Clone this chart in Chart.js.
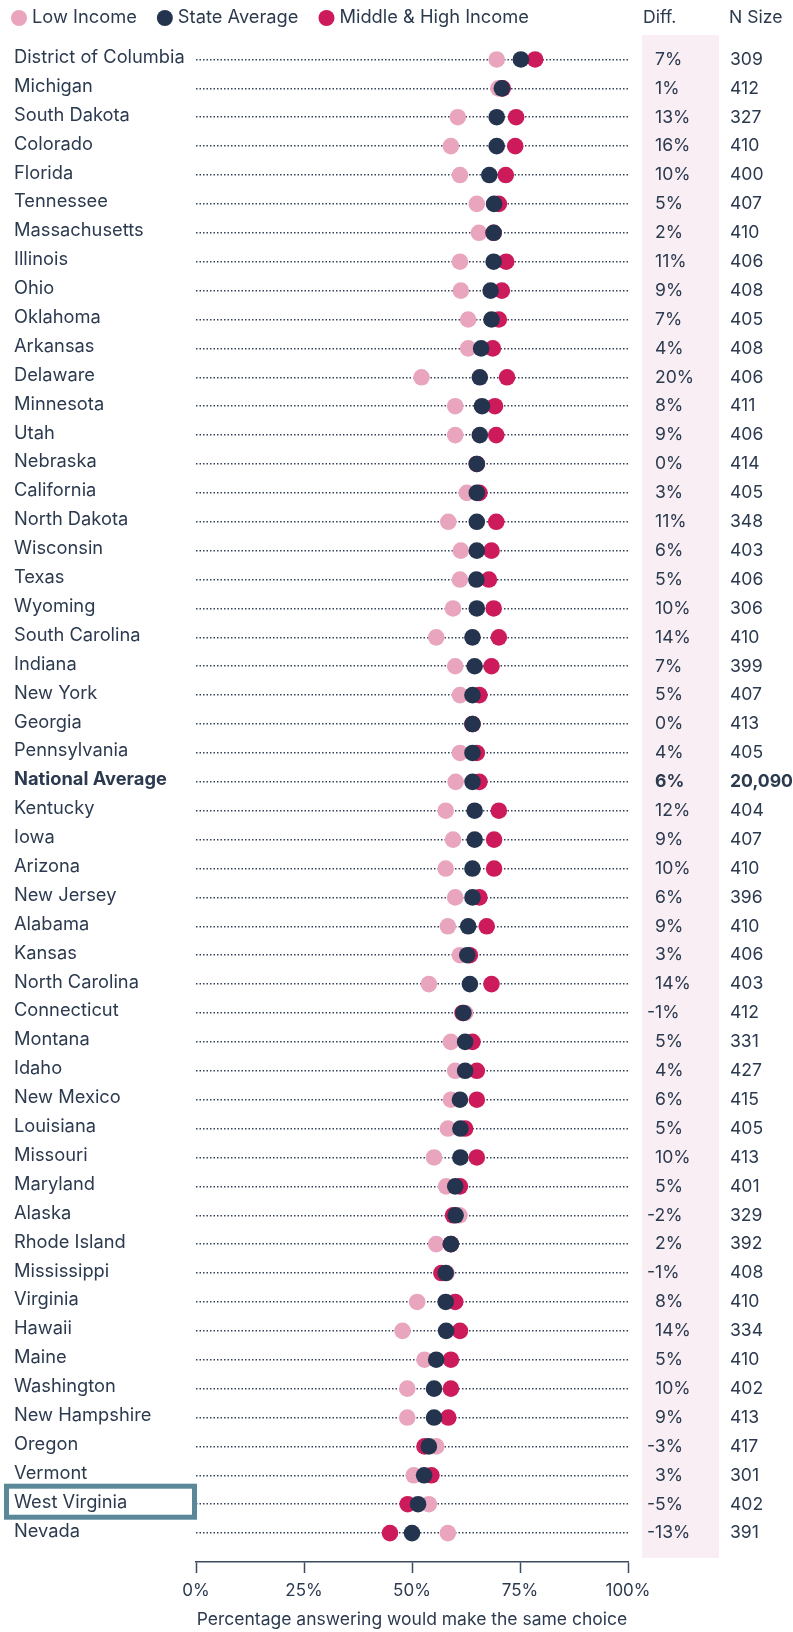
<!DOCTYPE html>
<html>
<head>
<meta charset="utf-8">
<script src="https://cdn.jsdelivr.net/npm/chart.js@4.4.1/dist/chart.umd.min.js"></script>
<style>
  html, body { margin: 0; padding: 0; background: #fff; }
  canvas { display: block; }
</style>
</head>
<body>
<canvas id="dumbbellChart" width="793" height="1632"></canvas>
<script>
// --- data ---
const states = ['District of Columbia', 'Michigan', 'South Dakota', 'Colorado', 'Florida', 'Tennessee',
  'Massachusetts', 'Illinois', 'Ohio', 'Oklahoma', 'Arkansas', 'Delaware', 'Minnesota', 'Utah', 'Nebraska',
  'California', 'North Dakota', 'Wisconsin', 'Texas', 'Wyoming', 'South Carolina', 'Indiana', 'New York',
  'Georgia', 'Pennsylvania', 'National Average', 'Kentucky', 'Iowa', 'Arizona', 'New Jersey', 'Alabama',
  'Kansas', 'North Carolina', 'Connecticut', 'Montana', 'Idaho', 'New Mexico', 'Louisiana', 'Missouri',
  'Maryland', 'Alaska', 'Rhode Island', 'Mississippi', 'Virginia', 'Hawaii', 'Maine', 'Washington',
  'New Hampshire', 'Oregon', 'Vermont', 'West Virginia', 'Nevada'];

const lowIncome = [69.6, 70.0, 60.6, 59.0, 61.1, 65.0, 65.5, 61.1, 61.3, 63.0, 63.0, 52.2, 60.0, 60.0, 65.0,
  62.7, 58.4, 61.3, 61.1, 59.5, 55.6, 60.0, 61.1, 64.0, 61.1, 60.1, 57.8, 59.5, 57.8, 60.0, 58.3,
  61.1, 53.9, 62.3, 59.0, 60.0, 59.0, 58.3, 55.1, 57.9, 61.0, 55.6, 58.0, 51.2, 47.8, 52.9, 48.9,
  48.9, 55.6, 50.4, 53.9, 58.3];

const stateAverage = [75.2, 70.8, 69.6, 69.6, 67.9, 69.0, 68.9, 68.9, 68.2, 68.4, 66.0, 65.7, 66.2, 65.7, 65.0,
  65.0, 65.0, 65.0, 64.9, 65.0, 64.0, 64.5, 64.0, 64.0, 64.0, 64.0, 64.5, 64.5, 64.0, 64.0, 63.0,
  62.8, 63.4, 61.9, 62.3, 62.3, 61.1, 61.2, 61.2, 60.0, 60.1, 59.0, 57.8, 57.8, 57.9, 55.6, 55.1,
  55.1, 53.9, 52.8, 51.4, 50.0];

const midHighIncome = [78.5, 71.0, 74.1, 73.9, 71.7, 70.1, 68.9, 71.8, 70.8, 70.1, 68.7, 72.0, 69.2, 69.5, 65.0,
  65.6, 69.5, 68.4, 67.8, 68.9, 70.1, 68.4, 65.6, 64.0, 65.0, 65.6, 70.1, 69.0, 69.0, 65.6, 67.3,
  63.4, 68.4, 61.7, 64.0, 65.0, 65.0, 62.3, 65.0, 61.1, 59.5, 59.0, 56.8, 60.0, 61.1, 59.0, 59.0,
  58.4, 52.9, 54.5, 49.0, 44.9];

const diffLabels = ['7%', '1%', '13%', '16%', '10%', '5%', '2%', '11%', '9%', '7%', '4%', '20%', '8%', '9%', '0%',
  '3%', '11%', '6%', '5%', '10%', '14%', '7%', '5%', '0%', '4%', '6%', '12%', '9%', '10%', '6%', '9%',
  '3%', '14%', '-1%', '5%', '4%', '6%', '5%', '10%', '5%', '-2%', '2%', '-1%', '8%', '14%', '5%', '10%',
  '9%', '-3%', '3%', '-5%', '-13%'];

const nSize = [309, 412, 327, 410, 400, 407, 410, 406, 408, 405, 408, 406, 411, 406, 414,
  405, 348, 403, 406, 306, 410, 399, 407, 413, 405, 20090, 404, 407, 410, 396, 410,
  406, 403, 412, 331, 427, 415, 405, 413, 401, 329, 392, 408, 410, 334, 410, 402,
  413, 417, 301, 402, 391];

const xTicks = [0, 25, 50, 75, 100];
const boldRow = 'National Average';
const highlightRow = 'West Virginia';

// --- styles ---
const FONT = 'Inter, Lato, sans-serif';
const LABEL_SIZE = 18.3;
const TABLE_SIZE = 17.6;
const TEXT = '#2c3a4f';
const PINK = '#e9a5be';
const NAVY = '#24344e';
const CRIMSON = '#cc1a5b';

const toPoints = arr => arr.map((v, i) => ({ x: v, y: i }));

// legend, right-hand table, highlight box
const sideTable = {
    id: 'sideTable',
    beforeDraw(chart) {
        const { ctx, chartArea } = chart;
        ctx.save();
        ctx.fillStyle = '#f8eef3';
        ctx.fillRect(642, chartArea.top - 10, 77, chartArea.bottom - chartArea.top + 6);
        ctx.restore();
    },
    afterDraw(chart) {
        const { ctx, scales: { y } } = chart;
        ctx.save();
        ctx.textBaseline = 'middle';
        ctx.textAlign = 'left';
        ctx.font = `${LABEL_SIZE}px ${FONT}`;

        // legend
        let lx = 11;
        chart.data.datasets.forEach(ds => {
            ctx.fillStyle = ds.backgroundColor;
            ctx.beginPath();
            ctx.arc(lx + 8, 18, 8, 0, Math.PI * 2);
            ctx.fill();
            ctx.fillStyle = TEXT;
            ctx.fillText(ds.label, lx + 21, 18);
            lx += 21 + ctx.measureText(ds.label).width + 20;
        });

        // column headers
        ctx.fillStyle = TEXT;
        ctx.font = `${TABLE_SIZE}px ${FONT}`;
        ctx.fillText('Diff.', 643, 18);
        ctx.fillText('N Size', 729, 18);

        // diff + n size
        states.forEach((s, i) => {
            const py = y.getPixelForValue(i);
            ctx.font = `${s === boldRow ? 'bold ' : ''}${TABLE_SIZE}px ${FONT}`;
            const d = diffLabels[i];
            const dx = d.startsWith('-') ? 655 - ctx.measureText('-').width : 655;
            ctx.fillText(d, dx, py);
            ctx.fillText(nSize[i].toLocaleString('en-US'), 730, py);
        });

        // highlight box
        const hy = y.getPixelForValue(states.indexOf(highlightRow)) - 2.5;
        ctx.strokeStyle = '#5a8898';
        ctx.lineWidth = 5;
        ctx.strokeRect(6.5, hy - 15.5, 188, 31);
        ctx.restore();
    }
};

const ctx = document.getElementById('dumbbellChart').getContext('2d');
new Chart(ctx, {
    type: 'scatter',
    data: {
        datasets: [
            { label: 'Low Income', data: toPoints(lowIncome), backgroundColor: PINK, order: 2 },
            { label: 'State Average', data: toPoints(stateAverage), backgroundColor: NAVY, order: 0 },
            { label: 'Middle & High Income', data: toPoints(midHighIncome), backgroundColor: CRIMSON, order: 1 }
        ]
    },
    options: {
        responsive: false,
        animation: false,
        events: [],
        layout: { padding: { top: 45, left: 14, right: 165, bottom: 0 } },
        elements: { point: { radius: 8.3, hoverRadius: 8.3, borderWidth: 0 } },
        plugins: { legend: { display: false }, tooltip: { enabled: false } },
        scales: {
            x: {
                type: 'linear', min: 0, max: 100,
                afterBuildTicks: s => { s.ticks = xTicks.map(v => ({ value: v })); },
                afterFit: s => { s.height = 70; },
                ticks: { color: TEXT, font: { family: FONT, size: 17 }, padding: 8, maxRotation: 0, callback: v => v + '%' },
                grid: { drawOnChartArea: false, drawTicks: true, tickLength: 11, tickColor: '#3b4a5f', tickWidth: 1.5 },
                border: { display: true, color: '#3b4a5f', width: 1.5 },
                title: {
                    display: true, text: 'Percentage answering would make the same choice',
                    color: TEXT, font: { family: FONT, size: 17.5 }, padding: { top: 8, bottom: 2 }
                }
            },
            y: {
                type: 'linear', reverse: true, min: -0.5, max: 52,
                afterBuildTicks: s => { s.ticks = states.map((_, i) => ({ value: i })); },
                afterFit: s => { s.width = 182; },
                ticks: {
                    autoSkip: false, crossAlign: 'far', labelOffset: -2, color: TEXT,
                    font: c => ({
                        family: FONT, size: LABEL_SIZE,
                        weight: c.tick && states[c.tick.value] === boldRow ? 'bold' : 'normal'
                    }),
                    callback: v => states[v]
                },
                grid: { color: '#34425a', lineWidth: 1.5, drawTicks: false },
                border: { display: false, dash: [1.5, 2] }
            }
        }
    },
    plugins: [sideTable]
});
</script>
</body>
</html>
